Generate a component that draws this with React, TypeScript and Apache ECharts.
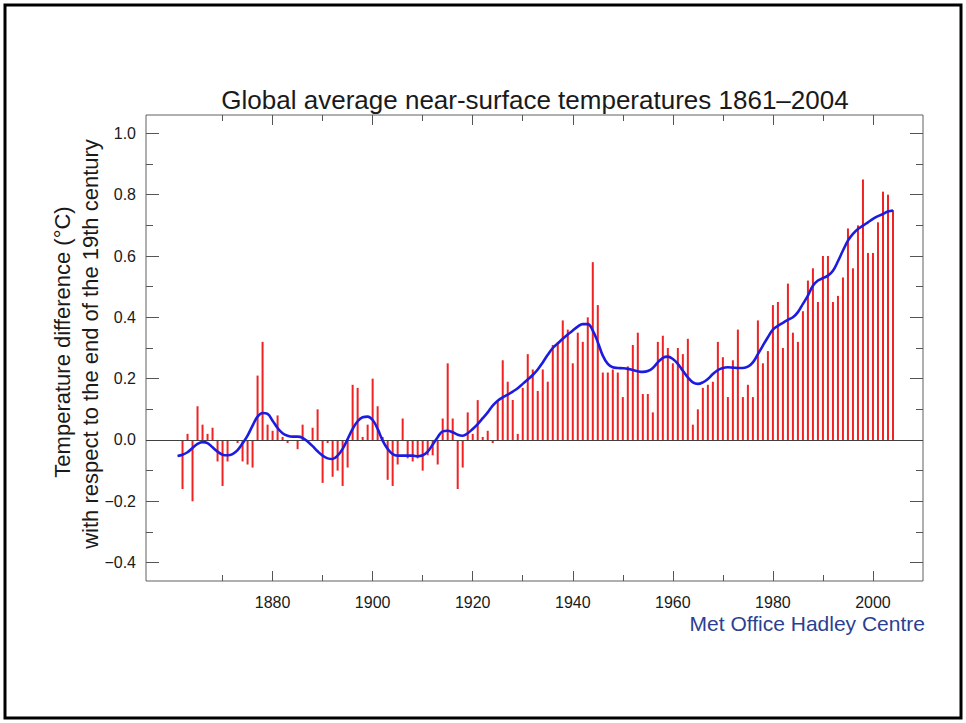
import React, { useEffect, useRef } from "react";
import * as echarts from "echarts";

const FIRST_YEAR = 1861;

// Annual global temperature anomalies (°C), 1861–2004
const anomalies: number[] = [
  0.0, -0.16, 0.02, -0.2, 0.11, 0.05, 0.02, 0.04, -0.07, -0.15,
  -0.07, 0.0, -0.01, -0.07, -0.08, -0.09, 0.21, 0.32, 0.05, 0.03,
  0.08, 0.01, -0.01, 0.0, -0.03, 0.05, 0.0, 0.04, 0.1, -0.14,
  -0.01, -0.12, -0.1, -0.15, -0.09, 0.18, 0.17, 0.01, 0.05, 0.2,
  0.11, 0.01, -0.13, -0.15, -0.08, 0.07, -0.06, -0.07, -0.06, -0.1,
  -0.05, -0.05, -0.08, 0.07, 0.25, 0.07, -0.16, -0.09, 0.09, 0.02,
  0.13, 0.01, 0.03, -0.01, 0.13, 0.26, 0.19, 0.13, 0.02, 0.17,
  0.28, 0.23, 0.16, 0.23, 0.19, 0.31, 0.32, 0.39, 0.36, 0.25,
  0.35, 0.32, 0.4, 0.58, 0.44, 0.22, 0.22, 0.23, 0.22, 0.14,
  0.24, 0.31, 0.35, 0.15, 0.15, 0.09, 0.32, 0.34, 0.3, 0.25,
  0.3, 0.28, 0.33, 0.05, 0.1, 0.17, 0.18, 0.19, 0.32, 0.27,
  0.14, 0.26, 0.36, 0.14, 0.18, 0.14, 0.39, 0.25, 0.29, 0.44,
  0.45, 0.3, 0.51, 0.35, 0.32, 0.42, 0.52, 0.56, 0.45, 0.6,
  0.6, 0.45, 0.47, 0.53, 0.69, 0.56, 0.7, 0.85, 0.61, 0.61,
  0.71, 0.81, 0.8, 0.75,
];

// Smoothed curve (°C), 1861–2004
const smoothed: number[] = [
  -0.052, -0.048, -0.04, -0.026, -0.013, -0.007, -0.01, -0.024, -0.038, -0.048,
  -0.05, -0.046, -0.033, -0.011, 0.014, 0.047, 0.076, 0.088, 0.085, 0.063,
  0.039, 0.022, 0.014, 0.011, 0.011, 0.007, -0.005, -0.02, -0.037, -0.051,
  -0.06, -0.062, -0.051, -0.029, 0.003, 0.036, 0.061, 0.074, 0.076, 0.065,
  0.036, -0.002, -0.029, -0.046, -0.051, -0.051, -0.051, -0.051, -0.053, -0.05,
  -0.038, -0.015, 0.009, 0.028, 0.03, 0.025, 0.017, 0.014, 0.022, 0.036,
  0.052, 0.071, 0.09, 0.112, 0.128, 0.139, 0.148, 0.158, 0.169, 0.183,
  0.197, 0.212, 0.23, 0.253, 0.278, 0.3, 0.315, 0.33, 0.344, 0.357,
  0.37, 0.378, 0.378, 0.357, 0.319, 0.275, 0.248, 0.237, 0.235, 0.234,
  0.232, 0.228, 0.224, 0.222, 0.225, 0.235, 0.253, 0.268, 0.272, 0.264,
  0.248, 0.226, 0.204, 0.188, 0.183, 0.188, 0.199, 0.215, 0.228, 0.235,
  0.237, 0.236, 0.235, 0.235, 0.239, 0.253, 0.28, 0.308, 0.335, 0.36,
  0.372, 0.382, 0.392, 0.4, 0.417, 0.444, 0.471, 0.503, 0.52, 0.528,
  0.536, 0.552, 0.583, 0.618, 0.65, 0.672, 0.688, 0.699, 0.71, 0.721,
  0.73, 0.737, 0.745, 0.748,
];

const years: number[] = anomalies.map((_, i) => FIRST_YEAR + i);

const xMajorTicks = [1880, 1900, 1920, 1940, 1960, 1980, 2000];
const xMinorTicks = [1870, 1890, 1910, 1930, 1950, 1970, 1990];
const yMajorTicks = [-0.4, -0.2, 0.0, 0.2, 0.4, 0.6, 0.8, 1.0];
const yMinorTicks = [-0.3, -0.1, 0.1, 0.3, 0.5, 0.7, 0.9];

const X_MIN = 1854.7;
const X_MAX = 2010;
const Y_MIN = -0.46;
const Y_MAX = 1.06;

const TITLE = "Global average near-surface temperatures 1861\u20132004";
const Y_NAME_1 = "Temperature difference (\u00b0C)";
const Y_NAME_2 = "with respect to the end of the 19th century";
const CREDIT = "Met Office Hadley Centre";

const FONT = "'Liberation Sans', Arial, Helvetica, sans-serif";
const TICK_COLOR = "#555555";

function xAxisDef(position: string, ticks: number[], len: number, labels: boolean) {
  return {
    type: "value",
    position,
    min: X_MIN,
    max: X_MAX,
    splitLine: { show: false },
    axisLine: { show: false, onZero: false },
    axisTick: {
      show: true,
      inside: true,
      length: len,
      customValues: ticks,
      lineStyle: { color: TICK_COLOR, width: 1 },
    },
    axisLabel: labels
      ? {
          show: true,
          customValues: ticks,
          margin: 13,
          fontSize: 16,
          fontFamily: FONT,
          color: "#1a1a1a",
          formatter: (v: number) => String(Math.round(v)),
        }
      : { show: false },
  };
}

function yAxisDef(position: string, ticks: number[], len: number, labels: boolean) {
  return {
    type: "value",
    position,
    min: Y_MIN,
    max: Y_MAX,
    splitLine: { show: false },
    axisLine: { show: false, onZero: false },
    axisTick: {
      show: true,
      inside: true,
      length: len,
      customValues: ticks,
      lineStyle: { color: TICK_COLOR, width: 1 },
    },
    axisLabel: labels
      ? {
          show: true,
          customValues: ticks,
          margin: 10,
          fontSize: 16,
          fontFamily: FONT,
          color: "#1a1a1a",
          formatter: (v: number) =>
            (v < -1e-9 ? "\u2212" : "") + Math.abs(v).toFixed(1),
        }
      : { show: false },
  };
}

export default function App() {
  const ref = useRef<HTMLDivElement>(null);

  useEffect(() => {
    if (!ref.current) return;
    const chart = echarts.init(ref.current, undefined, { renderer: "svg" });
    const option: any = {
      animation: false,
      backgroundColor: "#ffffff",
      title: {
        text: TITLE,
        left: 530,
        top: 82,
        textAlign: "center",
        textStyle: {
          fontFamily: FONT,
          fontSize: 26,
          fontWeight: "normal",
          color: "#1a1a1a",
        },
      },
      grid: {
        left: 146,
        top: 115,
        width: 777,
        height: 466,
        show: true,
        borderColor: "#606060",
        borderWidth: 1,
        backgroundColor: "transparent",
      },
      xAxis: [
        xAxisDef("bottom", xMajorTicks, 10, true),
        xAxisDef("bottom", xMinorTicks, 6, false),
        xAxisDef("top", xMajorTicks, 10, false),
        xAxisDef("top", xMinorTicks, 6, false),
      ],
      yAxis: [
        yAxisDef("left", yMajorTicks, 13, true),
        yAxisDef("left", yMinorTicks, 7, false),
        yAxisDef("right", yMajorTicks, 13, false),
        yAxisDef("right", yMinorTicks, 7, false),
      ],
      series: [
        {
          type: "bar",
          xAxisIndex: 0,
          yAxisIndex: 0,
          barWidth: 2,
          data: years.map((y, i) => [y, anomalies[i]]),
          itemStyle: { color: "#f02222" },
          markLine: {
            silent: true,
            symbol: "none",
            label: { show: false },
            lineStyle: { color: "#404040", width: 1, type: "solid" },
            data: [{ yAxis: 0 }],
          },
        },
        {
          type: "line",
          xAxisIndex: 0,
          yAxisIndex: 0,
          data: years.map((y, i) => [y, smoothed[i]]),
          smooth: 0.4,
          symbol: "none",
          lineStyle: { color: "#1c1ce0", width: 2.6 },
          z: 5,
        },
      ],
      graphic: [
        {
          type: "rect",
          silent: true,
          z: 100,
          shape: { x: 5, y: 5, width: 956, height: 713 },
          style: { fill: "none", stroke: "#000000", lineWidth: 3 },
        },
        {
          type: "text",
          x: 62,
          y: 342,
          rotation: Math.PI / 2,
          style: {
            text: Y_NAME_1,
            fontFamily: FONT,
            fontSize: 22,
            fill: "#1a1a1a",
            align: "center",
            verticalAlign: "middle",
          },
        },
        {
          type: "text",
          x: 90,
          y: 344,
          rotation: Math.PI / 2,
          style: {
            text: Y_NAME_2,
            fontFamily: FONT,
            fontSize: 22,
            fill: "#1a1a1a",
            align: "center",
            verticalAlign: "middle",
          },
        },
        {
          type: "text",
          x: 925,
          y: 623,
          style: {
            text: CREDIT,
            fontFamily: FONT,
            fontSize: 21,
            fill: "#2b3f91",
            align: "right",
            verticalAlign: "middle",
          },
        },
      ],
    };
    chart.setOption(option);
    return () => chart.dispose();
  }, []);

  return (
    <div
      ref={ref}
      style={{ position: "absolute", left: 0, top: 0, width: 966, height: 723 }}
    />
  );
}
